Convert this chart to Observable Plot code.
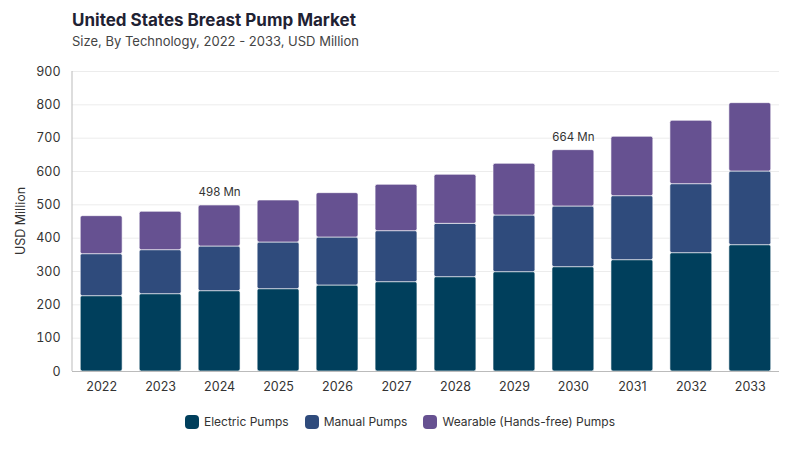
<!DOCTYPE html>
<html><head><meta charset="utf-8">
<script src="https://cdn.jsdelivr.net/npm/d3@7"></script>
<script src="https://cdn.jsdelivr.net/npm/@observablehq/plot@0.6"></script>
<style>
body{margin:0;background:#fff;font-family:Inter,"Noto Sans",sans-serif;width:800px;height:450px;overflow:hidden;position:relative}
#title{position:absolute;left:72px;top:10px;font-size:17px;font-weight:700;color:#1f2233}
#sub{position:absolute;left:72px;top:33px;font-size:13px;color:#444}
#chart{position:absolute;left:0;top:55px}
#ylab{position:absolute;left:20px;top:221px;transform:translate(-50%,-50%) rotate(-90deg);font-size:12.5px;color:#333;white-space:nowrap}
#legend{position:absolute;left:0;top:414px;width:800px;display:flex;justify-content:center;gap:16px;font-size:12px;color:#333}
.it{display:flex;align-items:center;gap:5px}
.sw{width:14px;height:14px;border-radius:4px;display:inline-block}
</style></head><body>
<div id="title">United States Breast Pump Market</div>
<div id="sub">Size, By Technology, 2022 - 2033, USD Million</div>
<div id="chart"></div>
<div id="ylab">USD Million</div>
<div id="legend"></div>
<script>
const years = ["2022","2023","2024","2025","2026","2027","2028","2029","2030","2031","2032","2033"];
const electric = [226,232,241,247,258,268,283,298,313,334,355,379];
const manual =   [126,132,134,140,144,153,160,170,182,192,207,221];
const wearable = [114,115,123,126,133,139,147,155,169,178,190,205];
const seriesNames = ["Electric Pumps","Manual Pumps","Wearable (Hands-free) Pumps"];
const colors = ["#003f5c","#2f4b7c","#665191"];
const labelYears = ["2024","2030"];
const yTicks = [0,100,200,300,400,500,600,700,800,900];

const data = [];
years.forEach((y,i)=>{
  data.push({year:y, series:seriesNames[0], value:electric[i]});
  data.push({year:y, series:seriesNames[1], value:manual[i]});
  data.push({year:y, series:seriesNames[2], value:wearable[i]});
});
const totals = years.map((y,i)=>({year:y, total:electric[i]+manual[i]+wearable[i]}));
const labels = totals.filter(d=>labelYears.includes(d.year));

const chart = Plot.plot({
  width:800, height:345,
  marginLeft:72, marginRight:21, marginTop:16, marginBottom:29,
  style:{fontFamily:"Inter, 'Noto Sans', sans-serif", fontSize:"12.5px", color:"#333"},
  x:{domain:years, paddingInner:0.29, paddingOuter:0.14, round:false, label:null, tickSize:0, tickPadding:11},
  y:{domain:[0,900], ticks:yTicks, label:null, grid:false, tickSize:0, tickPadding:12},
  color:{domain:seriesNames, range:colors},
  marks:[
    Plot.ruleY(yTicks.filter(d=>d>0), {stroke:"#ececec"}),
    Plot.barY(data, Plot.stackY({x:"year", y:"value", fill:"series", order:seriesNames, stroke:"#fff", strokeWidth:0.6, rx:2})),
    Plot.text(labels, {x:"year", y:"total", text:d=>d.total+" Mn", dy:-13, fontSize:11.5, fill:"#333"}),
    Plot.ruleY([0], {stroke:"#bbb"})
  ]
});
// left axis line at the start of the x scale's range, spanning the y scale's range
const xr = chart.scale("x").range, yr = chart.scale("y").range;
d3.select(chart).append("line")
  .attr("x1", xr[0]).attr("x2", xr[0]).attr("y1", yr[0]).attr("y2", yr[1])
  .attr("stroke", "#bbb");
document.getElementById("chart").appendChild(chart);
const lg = document.getElementById("legend");
seriesNames.forEach((s,i)=>{
  const d=document.createElement("div");d.className="it";
  d.innerHTML=`<span class="sw" style="background:${colors[i]}"></span><span>${s}</span>`;
  lg.appendChild(d);
});
</script>
</body></html>
